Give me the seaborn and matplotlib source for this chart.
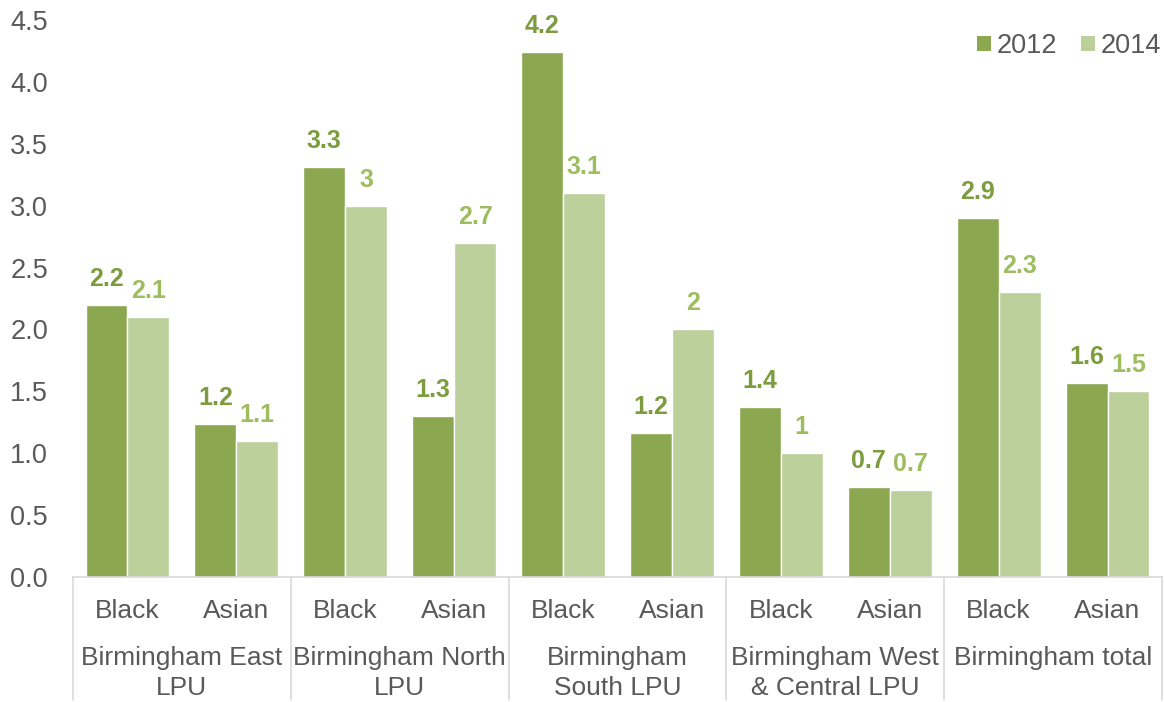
import matplotlib
matplotlib.use("Agg")
import matplotlib.pyplot as plt
from matplotlib.patches import Patch
import matplotlib.transforms as mtransforms
import seaborn as sns
import pandas as pd

# Data
groups = ["Birmingham East\nLPU", "Birmingham North\nLPU", "Birmingham\nSouth LPU",
          "Birmingham West\n& Central LPU", "Birmingham total"]
ethnicities = ["Black", "Asian"]
years = ["2012", "2014"]
values_2012 = [2.2, 1.24, 3.31, 1.3, 4.24, 1.16, 1.37, 0.73, 2.9, 1.57]
values_2014 = [2.1, 1.1, 3.0, 2.7, 3.1, 2.0, 1.0, 0.7, 2.3, 1.5]
y_ticks = [0.0, 0.5, 1.0, 1.5, 2.0, 2.5, 3.0, 3.5, 4.0, 4.5]

bar_colors = {"2012": "#8BA74F", "2014": "#BBD09A"}
label_colors = {"2012": "#7C9C3E", "2014": "#9DBD5F"}
text_gray = "#595959"
line_gray = "#D9D9D9"

# Long-form table: one row per bar
keys = [f"{g}|{e}" for g in groups for e in ethnicities]
rows = []
for k, v12, v14 in zip(keys, values_2012, values_2014):
    rows.append({"key": k, "year": "2012", "value": v12})
    rows.append({"key": k, "year": "2014", "value": v14})
df = pd.DataFrame(rows)

sns.set_theme(style="white")
plt.rcParams["font.family"] = ["Liberation Sans", "DejaVu Sans"]

fig = plt.figure(figsize=(11.64, 7.02), dpi=100)
W, H = 1164, 702
x0, x1, ytop, ybot = 73, 1162, 20, 577
ax = fig.add_axes([x0 / W, (H - ybot) / H, (x1 - x0) / W, (ybot - ytop) / H])

sns.barplot(data=df, x="key", y="value", hue="year", order=keys, hue_order=years,
            palette=bar_colors, width=0.77, saturation=1, errorbar=None,
            legend=False, ax=ax)

ax.set_ylim(0, 4.5)
ax.set_xlim(-0.5, len(keys) - 0.5)
ax.set_yticks(y_ticks)
ax.set_yticklabels([f"{t:.1f}" for t in y_ticks], fontsize=19.5, color=text_gray)
ax.set_xticks(range(len(keys)))
ax.set_xticklabels([k.split("|")[1] for k in keys], fontsize=19, color=text_gray)
ax.tick_params(axis="both", length=0)
ax.tick_params(axis="y", pad=18)
ax.tick_params(axis="x", pad=15.5)
ax.set_xlabel("")
ax.set_ylabel("")
for s in ["top", "right", "left"]:
    ax.spines[s].set_visible(False)
ax.spines["bottom"].set_color(line_gray)
ax.spines["bottom"].set_linewidth(1.2)

# Value labels above each bar
fmt = {"2012": lambda v: f"{v:.1f}", "2014": lambda v: f"{v:g}"}
for container, year in zip(ax.containers, years):
    for patch in container:
        v = patch.get_height()
        ax.annotate(fmt[year](v), (patch.get_x() + patch.get_width() / 2, v),
                    xytext=(0, 26), textcoords="offset pixels",
                    ha="center", va="center", fontsize=18, fontweight="bold",
                    color=label_colors[year])

# Group labels and separators of the two-level category axis
trans = mtransforms.blended_transform_factory(ax.transData, ax.transAxes)
axis_h = ybot - ytop
sep_bottom = -(700 - ybot) / axis_h
for i in range(len(groups) + 1):
    xs = 2 * i - 0.5
    ax.plot([xs, xs], [0, sep_bottom], transform=trans, color=line_gray,
            lw=1.2, clip_on=False)
for i, g in enumerate(groups):
    ax.text(2 * i + 0.5, -(646 - ybot) / axis_h, g, transform=trans,
            ha="center", va="top", fontsize=19, color=text_gray,
            linespacing=1.3)

# Legend
handles = [Patch(facecolor=bar_colors[y], edgecolor="none", label=y) for y in years]
fig.legend(handles=handles, loc="center right", ncol=2, frameon=False,
           bbox_to_anchor=(1161 / W, 1 - 46 / H), bbox_transform=fig.transFigure,
           fontsize=19.5, handlelength=0.52, handleheight=0.52,
           handletextpad=0.22, columnspacing=0.85, labelcolor=text_gray,
           borderpad=0, borderaxespad=0)

fig.savefig("out.png", dpi=100)
